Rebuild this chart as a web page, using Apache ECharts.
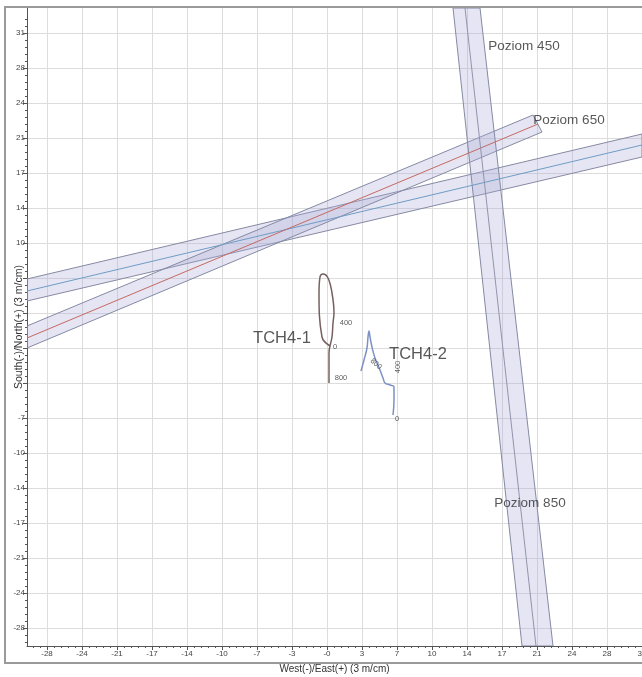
<!DOCTYPE html>
<html><head><meta charset="utf-8">
<script src="https://cdn.jsdelivr.net/npm/echarts@6/dist/echarts.min.js"></script>
<style>html,body{margin:0;padding:0;background:#fff}#c{width:642px;height:677px}</style>
</head><body><div id="c"></div>
<script>
// ---- axis ticks ----
const xTickValues = [-28,-24.5,-21,-17.5,-14,-10.5,-7,-3.5,0,3.5,7,10.5,14,17.5,21,24.5,28,31.5];
const xTickLabels = ['-28','-24','-21','-17','-14','-10','-7','-3','-0','3','7','10','14','17','21','24','28','31'];
const yTickValues = [-28,-24.5,-21,-17.5,-14,-10.5,-7,-3.5,0,3.5,7,10.5,14,17.5,21,24.5,28,31.5];
const yTickLabels = ['-28','-24','-21','-17','-14','-10','-7','','','','','10','14','17','21','24','28','31'];

// ---- bands (level planes), endpoints in metres ----
const blueUpper  = [[-30, 6.9], [31.5, 21.4]];
const blueCenter = [[-30, 5.7], [31.5, 20.3]];
const blueLower  = [[-30, 4.7], [31.5, 19.1]];
const redUpper   = [[-30, 2.2], [20.6, 23.3]];
const redCenter  = [[-30, 1.0], [21.1, 22.4]];
const redLower   = [[-30, 0.0], [21.5, 21.6]];
const vertLeft   = [[12.6, 34], [19.5, -29.8]];
const vertCenter = [[13.8, 34], [20.9, -29.8]];
const vertRight  = [[15.3, 34], [22.6, -29.8]];

// ---- well trajectories ----
const tch41 = [[0.3,0.2],[-0.5,1.1],[-0.8,5.5],[-0.7,7.1],[-0.4,7.4],[0.1,7.0],[0.5,5.5],[0.7,3.5],[0.6,2.5],[0.5,1.1],[0.2,-0.5],[0.2,-3.5]];
const tch42 = [[6.6,-6.7],[6.7,-5.2],[6.7,-3.9],[6.3,-3.7],[5.8,-3.5],[5.6,-3.0],[5.3,-2.2],[4.8,-1.0],[4.5,0.1],[4.3,1.1],[4.2,1.7],[4.1,1.1],[4.0,0.0],[3.7,-1.2],[3.4,-2.3]];

// ---- depth markers ----
const depthText = ['0','400','800','0','400','800'];
const depthPos  = [[0.8,0.1],[1.9,2.5],[1.4,-3.0],[7.0,-7.1],[7.1,-1.9],[4.9,-1.6]];
const depthRot  = [0,0,0,0,90,-40];

// ---- annotations ----
const noteText = ['Poziom 450','Poziom 650','Poziom 850','TCH4-1','TCH4-2'];
const notePos  = [[19.7,30.2],[24.2,22.8],[20.3,-15.5],[-4.5,1.0],[9.1,-0.6]];

const FONT = 'Liberation Sans, Arial, sans-serif';
const polygons = [
  blueUpper.concat(blueLower.slice().reverse()),
  redUpper.concat(redLower.slice().reverse()),
  vertLeft.concat(vertRight.slice().reverse())
];
const minorX = [], minorY = [];
for (let i = 0; i < 90; i++) { const v = Math.round((-29.4 + i*0.7)*10)/10; if (v <= 31.5) minorX.push(v); if (v <= 34) minorY.push(v); }

const chart = echarts.init(document.getElementById('c'));
const lineSeries = (data, color, w) => ({type:'line', data, symbol:'none', clip:true, silent:true,
  lineStyle:{color, width:w}, z:3});

chart.setOption({
  animation:false,
  backgroundColor:'#fff',
  grid:{left:27, top:8, right:0, bottom:31, outerBoundsMode:'none', containLabel:false},
  graphic:[{type:'rect', shape:{x:5, y:7, width:700, height:656}, style:{fill:'none', stroke:'#9a9a9a', lineWidth:2}, z:100}],
  xAxis:[{
    type:'value', min:-30, max:31.5, position:'bottom',
    name:'West(-)/East(+) (3 m/cm)', nameLocation:'middle', nameGap:18, nameMoveOverlap:false,
    nameTextStyle:{fontSize:10, color:'#333', fontFamily:FONT},
    axisLine:{onZero:false, lineStyle:{color:'#555', width:1}},
    axisTick:{show:true, customValues:xTickValues, length:4, lineStyle:{color:'#555'}},
    axisLabel:{customValues:xTickValues, fontSize:8, color:'#444', margin:4, fontFamily:FONT,
      formatter:v => { const i = xTickValues.indexOf(v); return i >= 0 ? xTickLabels[i] : ''; }},
    splitLine:{show:true, lineStyle:{color:'#dcdcdc', width:1}}
  },{
    type:'value', min:-30, max:31.5, position:'bottom',
    axisLine:{show:false, onZero:false}, axisLabel:{show:false}, splitLine:{show:false},
    axisTick:{show:true, customValues:minorX, length:2, lineStyle:{color:'#555'}}
  }],
  yAxis:[{
    type:'value', min:-29.8, max:34, position:'left',
    name:'South(-)/North(+) (3 m/cm)', nameLocation:'middle', nameGap:2, nameMoveOverlap:false,
    nameTextStyle:{fontSize:10.5, color:'#333', fontFamily:FONT},
    axisLine:{onZero:false, lineStyle:{color:'#555', width:1}},
    axisTick:{show:true, customValues:yTickValues, length:4, lineStyle:{color:'#555'}},
    axisLabel:{customValues:yTickValues, fontSize:8, color:'#444', margin:2, fontFamily:FONT,
      formatter:v => { const i = yTickValues.indexOf(v); return i >= 0 ? yTickLabels[i] : ''; }},
    splitLine:{show:true, lineStyle:{color:'#dcdcdc', width:1}}
  },{
    type:'value', min:-29.8, max:34, position:'left',
    axisLine:{show:false, onZero:false}, axisLabel:{show:false}, splitLine:{show:false},
    axisTick:{show:true, customValues:minorY, length:2, lineStyle:{color:'#555'}}
  }],
  series:[
    {type:'custom', clip:true, silent:true, z:2, data:polygons.map((p,i)=>i),
     renderItem:(params, api) => ({type:'polygon',
       shape:{points: polygons[params.dataIndex].map(p => api.coord(p))},
       style:{fill:'rgba(170,170,215,0.3)', stroke:'#858aa3', lineWidth:1}})},
    lineSeries(blueCenter, '#6f9cc4', 1),
    lineSeries(redCenter, '#c46a62', 1),
    lineSeries(vertCenter, '#9294aa', 1),
    {type:'line', name:'TCH4-1', data:tch41, smooth:0.4, symbol:'none', clip:true, z:4,
     lineStyle:{color:'#75605f', width:1.5}},
    {type:'line', name:'TCH4-2', data:tch42, smooth:0.4, symbol:'none', clip:true, z:4,
     lineStyle:{color:'#7d91c6', width:1.5}},
    {type:'scatter', symbolSize:0, z:5, silent:true,
     data: depthPos.map((p,i)=>({value:p, name:depthText[i], label:{rotate:depthRot[i]}})),
     label:{show:true, position:'inside', formatter:'{b}', fontSize:7.5, color:'#333', fontFamily:FONT}},
    {type:'scatter', symbolSize:0, z:6, silent:true,
     data: notePos.map((p,i)=>({value:p, name:noteText[i], label:{fontSize: i >= 3 ? 16.5 : 13.5}})),
     label:{show:true, position:'inside', formatter:'{b}', color:'#2e2e2e', fontFamily:FONT}}
  ]
});
</script></body></html>
